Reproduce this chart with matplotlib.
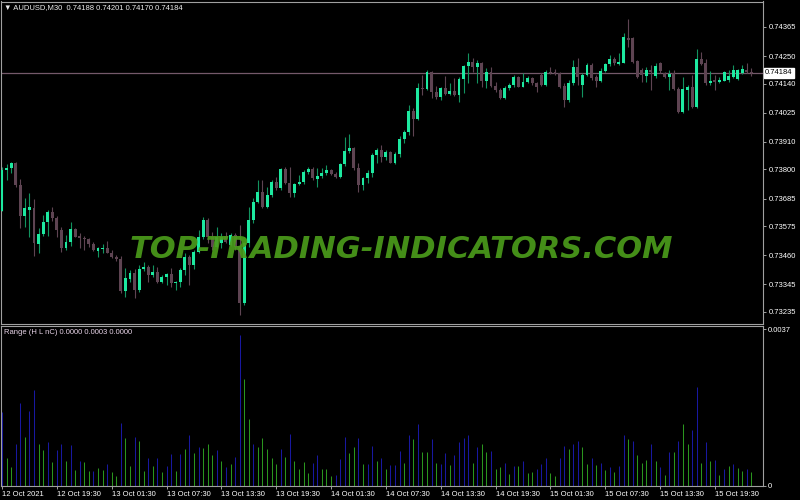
import matplotlib.pyplot as plt

# AUDUSD M30 candles, prices in 1e-5 units
opens = [73637, 73798, 73807, 73826, 73739, 73617, 73641, 73647, 73505, 73544,
         73592, 73631, 73608, 73560, 73489, 73514, 73564, 73538, 73530, 73524,
         73505, 73478, 73486, 73490, 73470, 73453, 73445, 73319, 73366, 73390,
         73322, 73405, 73415, 73382, 73394, 73355, 73375, 73386, 73349, 73355,
         73402, 73453, 73421, 73474, 73532, 73600, 73534, 73492, 73509, 73536,
         73501, 73540, 73496, 73269, 73509, 73600, 73672, 73712, 73652, 73699,
         73752, 73725, 73801, 73748, 73708, 73742, 73752, 73791, 73801, 73762,
         73774, 73787, 73798, 73781, 73771, 73822, 73875, 73886, 73805, 73739,
         73765, 73785, 73857, 73877, 73851, 73871, 73827, 73861, 73920, 73947,
         74033, 74000, 74124, 74118, 74188, 74106, 74089, 74122, 74099, 74111,
         74095, 74159, 74210, 74227, 74205, 74221, 74152, 74188, 74131, 74115,
         74085, 74122, 74135, 74168, 74128, 74148, 74164, 74142, 74175, 74135,
         74188, 74186, 74184, 74131, 74076, 74144, 74205, 74135, 74175, 74214,
         74168, 74152, 74192, 74218, 74237, 74218, 74223, 74320, 74320, 74231,
         74195, 74171, 74195, 74171, 74221, 74181, 74168, 74181, 74118, 74029,
         74115, 74128, 74049, 74237, 74224, 74144, 74155, 74148, 74152, 74155,
         74168, 74158, 74184, 74195, 74188]
highs = [73810, 73822, 73830, 73830, 73762, 73687, 73707, 73683, 73568, 73620,
         73639, 73651, 73617, 73572, 73540, 73593, 73568, 73548, 73536, 73528,
         73513, 73494, 73505, 73518, 73481, 73461, 73457, 73409, 73402, 73405,
         73421, 73434, 73421, 73421, 73415, 73382, 73389, 73409, 73356, 73409,
         73469, 73461, 73481, 73560, 73613, 73608, 73553, 73573, 73548, 73553,
         73548, 73548, 73580, 73514, 73652, 73687, 73758, 73758, 73732, 73758,
         73771, 73805, 73809, 73811, 73748, 73778, 73798, 73811, 73811, 73805,
         73805, 73818, 73801, 73791, 73827, 73928, 73941, 73890, 73825, 73771,
         73798, 73864, 73884, 73897, 73877, 73874, 73871, 73933, 73957, 74056,
         74043, 74142, 74175, 74195, 74191, 74131, 74128, 74171, 74144, 74162,
         74168, 74214, 74261, 74241, 74234, 74227, 74201, 74208, 74148, 74122,
         74131, 74142, 74175, 74171, 74184, 74171, 74168, 74148, 74181, 74195,
         74208, 74197, 74188, 74142, 74155, 74234, 74241, 74181, 74221, 74221,
         74175, 74201, 74224, 74254, 74247, 74261, 74340, 74396, 74327, 74234,
         74201, 74208, 74214, 74221, 74227, 74188, 74195, 74195, 74128, 74168,
         74135, 74175, 74277, 74267, 74237, 74192, 74175, 74168, 74190, 74195,
         74214, 74197, 74214, 74224, 74201]
lows = [73636, 73758, 73786, 73731, 73568, 73572, 73532, 73457, 73469, 73536,
        73536, 73596, 73532, 73473, 73481, 73498, 73532, 73489, 73481, 73494,
        73478, 73453, 73469, 73467, 73449, 73438, 73310, 73296, 73355, 73290,
        73315, 73399, 73355, 73375, 73350, 73350, 73342, 73335, 73322, 73334,
        73382, 73342, 73405, 73469, 73524, 73509, 73481, 73489, 73489, 73509,
        73497, 73481, 73223, 73263, 73494, 73588, 73666, 73646, 73646, 73692,
        73719, 73719, 73742, 73690, 73690, 73739, 73742, 73781, 73758, 73732,
        73765, 73778, 73778, 73765, 73765, 73814, 73864, 73798, 73712, 73719,
        73748, 73771, 73825, 73831, 73838, 73825, 73822, 73851, 73904, 73937,
        73933, 73996, 74095, 74115, 74082, 74078, 74076, 74095, 74095, 74091,
        74066, 74102, 74142, 74188, 74142, 74128, 74122, 74126, 74108, 74078,
        74078, 74115, 74128, 74126, 74126, 74142, 74135, 74108, 74131, 74131,
        74179, 74175, 74122, 74049, 74069, 74135, 74135, 74089, 74171, 74155,
        74126, 74148, 74188, 74210, 74214, 74214, 74221, 74287, 74221, 74162,
        74148, 74148, 74115, 74162, 74184, 74162, 74115, 74115, 74023, 74023,
        74036, 74043, 74043, 74214, 74135, 74135, 74115, 74144, 74150, 74148,
        74162, 74156, 74179, 74184, 74170]
closes = [73798, 73807, 73826, 73739, 73617, 73649, 73650, 73509, 73544, 73592,
          73631, 73608, 73560, 73489, 73514, 73564, 73534, 73530, 73524, 73505,
          73481, 73490, 73490, 73470, 73453, 73445, 73319, 73370, 73390, 73322,
          73405, 73415, 73382, 73394, 73355, 73375, 73386, 73349, 73355, 73402,
          73453, 73421, 73474, 73532, 73600, 73534, 73492, 73532, 73534, 73514,
          73540, 73494, 73269, 73509, 73600, 73672, 73712, 73652, 73699, 73752,
          73725, 73801, 73748, 73708, 73742, 73752, 73791, 73801, 73765, 73774,
          73787, 73798, 73781, 73771, 73822, 73875, 73886, 73805, 73739, 73765,
          73785, 73857, 73877, 73851, 73871, 73827, 73861, 73920, 73947, 74033,
          74000, 74124, 74118, 74188, 74106, 74089, 74122, 74099, 74111, 74095,
          74159, 74210, 74227, 74205, 74221, 74152, 74188, 74131, 74115, 74085,
          74122, 74135, 74168, 74128, 74148, 74164, 74142, 74128, 74135, 74188,
          74181, 74179, 74128, 74076, 74144, 74205, 74168, 74175, 74214, 74162,
          74152, 74192, 74218, 74237, 74221, 74227, 74327, 74313, 74227, 74168,
          74175, 74195, 74188, 74210, 74192, 74168, 74179, 74118, 74029, 74118,
          74126, 74049, 74237, 74218, 74144, 74152, 74148, 74155, 74188, 74171,
          74195, 74195, 74197, 74188, 74184]

# Range indicator colour per bar: b = blue, g = green
range_colors = ("bggbbgbbgg" "bgbbgbgbgg" "bggbggbggb" "ggbgbgbbgb" "gbgbgggbgb"
                "gbbggbgggg" "gbgbggggbb" "gggbbbggbg" "bbgbgbbbgb" "gbggbgbbgb"
                "bbbgbggbgg" "bgbgbggbbb" "ggbbgbbggb" "gbgbgbbgbg" "ggbgbgbgbg"
                "gbbgbgbgbg" "bggbg")

price_ticks = [0.74365, 0.74250, 0.74140, 0.74025, 0.73910, 0.73800,
               0.73685, 0.73575, 0.73460, 0.73345, 0.73235]
date_labels = ['12 Oct 2021', '12 Oct 19:30', '13 Oct 01:30', '13 Oct 07:30',
               '13 Oct 13:30', '13 Oct 19:30', '14 Oct 01:30', '14 Oct 07:30',
               '14 Oct 13:30', '14 Oct 19:30', '15 Oct 01:30', '15 Oct 07:30',
               '15 Oct 13:30', '15 Oct 19:30']
last_price = 0.74184

o = [v / 1e5 for v in opens]
h = [v / 1e5 for v in highs]
l = [v / 1e5 for v in lows]
c = [v / 1e5 for v in closes]
x = list(range(len(o)))
rng = [hi - lo for hi, lo in zip(h, l)]

FONT = ['Liberation Sans', 'DejaVu Sans']
FS = 5.5
GRID = '#a0a0a0'
BULL = '#1de9a0'
BEAR = '#5e4452'
BULL_WICK = '#12935f'
BEAR_WICK = '#5e4452'

plt.rcParams['font.family'] = FONT

fig = plt.figure(figsize=(8, 5), dpi=100, facecolor='black')
ax1 = fig.add_axes([1 / 800, 1 - 324 / 500, 762 / 800, 322.5 / 500], facecolor='black')
ax2 = fig.add_axes([1 / 800, 1 - 485.5 / 500, 762 / 800, 160 / 500], facecolor='black')

# price panel
up = [cc >= oo for oo, cc in zip(o, c)]
ax1.vlines(x, l, h, colors=[BULL_WICK if u else BEAR_WICK for u in up], lw=0.8, zorder=2)
bottoms = [min(oo, cc) for oo, cc in zip(o, c)]
heights = [max(abs(cc - oo), 0.00003) for oo, cc in zip(o, c)]
ax1.bar(x, heights, bottom=bottoms, width=0.64, color=[BULL if u else BEAR for u in up],
        linewidth=0, zorder=3)
ax1.axhline(last_price, color='#74596a', lw=0.9, zorder=1)

ax1.set_xlim(-0.22, 166.52)
ax1.set_ylim(0.731874, 0.744661)
ax1.set_xticks([])
ax1.yaxis.tick_right()
ax1.set_yticks(price_ticks)
ax1.set_yticklabels(['%.5f' % p for p in price_ticks])
ax1.tick_params(axis='y', colors=GRID, labelcolor='white', labelsize=FS, length=2.5,
                width=0.7, pad=1.5)
for s in ax1.spines.values():
    s.set_color(GRID)
    s.set_linewidth(0.8)

ax1.text(1.0025, last_price, '%.5f' % last_price, transform=ax1.get_yaxis_transform(),
         fontsize=FS, color='black', va='center', ha='left', zorder=5,
         bbox=dict(boxstyle='square,pad=0.18', fc='white', ec='white'))

fig.text(401.5 / 800, 1 - 249 / 500, 'TOP-TRADING-INDICATORS.COM', fontsize=22,
         fontweight='bold', style='italic', color='#4b9b1b', alpha=0.92,
         ha='center', va='center', family='DejaVu Sans', zorder=10)

fig.text(4 / 800, 1 - 7.5 / 500, '\u25bc AUDUSD,M30  0.74188 0.74201 0.74170 0.74184',
         fontsize=FS, color='#ececec', va='center', ha='left')

# range indicator panel
ax2.vlines(x, 0, rng, colors=['#1818a0' if ch == 'b' else '#2a951e' for ch in range_colors],
           lw=0.75)
ax2.set_xlim(-0.22, 166.52)
ax2.set_ylim(0, 0.003783)
ax2.yaxis.tick_right()
ax2.set_yticks([0, 0.0037])
ax2.set_yticklabels(['0', '0.0037'])
ax2.set_xticks(list(range(0, 157, 12)))
ax2.set_xticklabels(date_labels, ha='left')
ax2.tick_params(axis='both', colors=GRID, labelcolor='white', labelsize=FS, length=2.5,
                width=0.7, pad=1.2)
for s in ax2.spines.values():
    s.set_color(GRID)
    s.set_linewidth(0.8)

ax2.text(0.004, 0.975, 'Range (H L nC) 0.0000 0.0003 0.0000', transform=ax2.transAxes,
         fontsize=FS, color='#e6d2e6', va='top', ha='left')

plt.savefig('out.png', dpi=100, facecolor='black')
